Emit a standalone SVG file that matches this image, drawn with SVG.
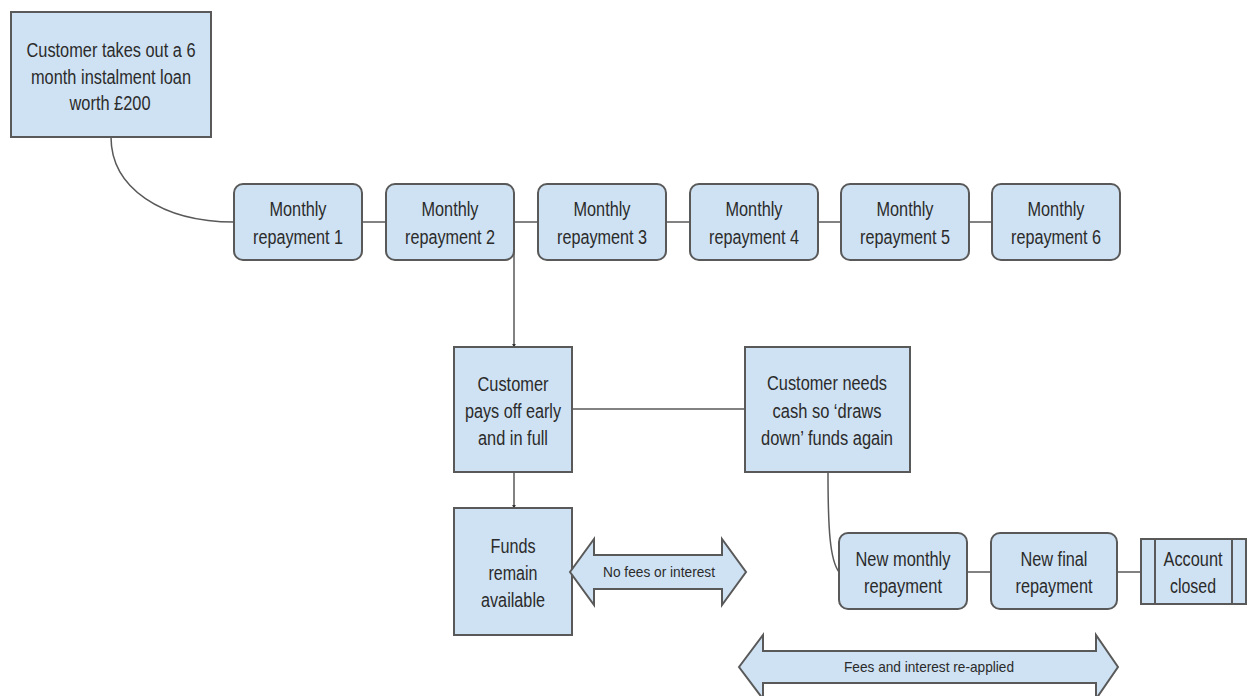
<svg xmlns="http://www.w3.org/2000/svg" width="1248" height="696" viewBox="0 0 1248 696">
<style>
.box{fill:#cfe2f3;stroke:#595959;stroke-width:2}
.t{font-family:"Liberation Sans",Arial,sans-serif;font-size:20px;fill:#2b2b2b;text-anchor:middle}
.s{font-size:14.5px}
.c{fill:none;stroke:#595959;stroke-width:1.5}
</style>
<defs>
<marker id="ah" viewBox="0 0 6 6" refX="5" refY="3" markerWidth="4" markerHeight="4" orient="auto" markerUnits="userSpaceOnUse">
<path d="M0,0 L6,3 L0,6 z" fill="#333"/>
</marker>
</defs>
<rect width="1248" height="696" fill="#fff"/>
<g id="connectors">
<path class="c" d="M111,137 C111,188 162,222 234,222"/>
<line class="c" x1="362" y1="222" x2="386" y2="222"/>
<line class="c" x1="514" y1="222" x2="538" y2="222"/>
<line class="c" x1="666" y1="222" x2="690" y2="222"/>
<line class="c" x1="818" y1="222" x2="841" y2="222"/>
<line class="c" x1="969" y1="222" x2="992" y2="222"/>
<line class="c" x1="514" y1="222" x2="514" y2="347" marker-end="url(#ah)"/>
<line class="c" x1="514" y1="472" x2="514" y2="508" marker-end="url(#ah)"/>
<line class="c" x1="572" y1="409" x2="745" y2="409"/>
<path class="c" d="M828,472 C828,530 830,560 839,572"/>
<line class="c" x1="967" y1="572" x2="991" y2="572"/>
<line class="c" x1="1117" y1="572" x2="1141" y2="572"/>
</g>
<g id="n-start">
<rect class="box" x="11" y="12" width="200" height="125"/>
<text class="t" x="111" y="57" textLength="169" lengthAdjust="spacingAndGlyphs">Customer takes out a 6</text>
<text class="t" x="111" y="84" textLength="160" lengthAdjust="spacingAndGlyphs">month instalment loan</text>
<text class="t" x="110" y="110" textLength="81" lengthAdjust="spacingAndGlyphs">worth £200</text>
</g>
<g id="n-m1">
<rect class="box" x="234" y="184" width="128" height="76" rx="9"/>
<text class="t" x="298" y="216" textLength="57" lengthAdjust="spacingAndGlyphs">Monthly</text>
<text class="t" x="298" y="244" textLength="90" lengthAdjust="spacingAndGlyphs">repayment 1</text>
</g>
<g id="n-m2">
<rect class="box" x="386" y="184" width="128" height="76" rx="9"/>
<text class="t" x="450" y="216" textLength="57" lengthAdjust="spacingAndGlyphs">Monthly</text>
<text class="t" x="450" y="244" textLength="90" lengthAdjust="spacingAndGlyphs">repayment 2</text>
</g>
<g id="n-m3">
<rect class="box" x="538" y="184" width="128" height="76" rx="9"/>
<text class="t" x="602" y="216" textLength="57" lengthAdjust="spacingAndGlyphs">Monthly</text>
<text class="t" x="602" y="244" textLength="90" lengthAdjust="spacingAndGlyphs">repayment 3</text>
</g>
<g id="n-m4">
<rect class="box" x="690" y="184" width="128" height="76" rx="9"/>
<text class="t" x="754" y="216" textLength="57" lengthAdjust="spacingAndGlyphs">Monthly</text>
<text class="t" x="754" y="244" textLength="90" lengthAdjust="spacingAndGlyphs">repayment 4</text>
</g>
<g id="n-m5">
<rect class="box" x="841" y="184" width="128" height="76" rx="9"/>
<text class="t" x="905" y="216" textLength="57" lengthAdjust="spacingAndGlyphs">Monthly</text>
<text class="t" x="905" y="244" textLength="90" lengthAdjust="spacingAndGlyphs">repayment 5</text>
</g>
<g id="n-m6">
<rect class="box" x="992" y="184" width="128" height="76" rx="9"/>
<text class="t" x="1056" y="216" textLength="57" lengthAdjust="spacingAndGlyphs">Monthly</text>
<text class="t" x="1056" y="244" textLength="90" lengthAdjust="spacingAndGlyphs">repayment 6</text>
</g>
<g id="n-payoff">
<rect class="box" x="454" y="347" width="118" height="125"/>
<text class="t" x="513" y="391" textLength="71" lengthAdjust="spacingAndGlyphs">Customer</text>
<text class="t" x="513" y="418" textLength="96" lengthAdjust="spacingAndGlyphs">pays off early</text>
<text class="t" x="513" y="445" textLength="70" lengthAdjust="spacingAndGlyphs">and in full</text>
</g>
<g id="n-funds">
<rect class="box" x="454" y="508" width="118" height="127"/>
<text class="t" x="513" y="553" textLength="45" lengthAdjust="spacingAndGlyphs">Funds</text>
<text class="t" x="513" y="580" textLength="49" lengthAdjust="spacingAndGlyphs">remain</text>
<text class="t" x="513" y="607" textLength="64" lengthAdjust="spacingAndGlyphs">available</text>
</g>
<g id="n-nofees">
<polygon class="box" points="570,572 594,539 594,555 722,555 722,539 746,572 722,605 722,589 594,589 594,605"/>
<text class="t s" x="659" y="577" textLength="112" lengthAdjust="spacingAndGlyphs">No fees or interest</text>
</g>
<g id="n-drawdown">
<rect class="box" x="745" y="347" width="165" height="125"/>
<text class="t" x="827" y="390" textLength="120" lengthAdjust="spacingAndGlyphs">Customer needs</text>
<text class="t" x="827" y="418" textLength="109" lengthAdjust="spacingAndGlyphs">cash so ‘draws</text>
<text class="t" x="827" y="445" textLength="132" lengthAdjust="spacingAndGlyphs">down’ funds again</text>
</g>
<g id="n-newmonthly">
<rect class="box" x="839" y="533" width="128" height="76" rx="9"/>
<text class="t" x="903" y="566" textLength="95" lengthAdjust="spacingAndGlyphs">New monthly</text>
<text class="t" x="903" y="593" textLength="78" lengthAdjust="spacingAndGlyphs">repayment</text>
</g>
<g id="n-newfinal">
<rect class="box" x="991" y="533" width="126" height="76" rx="9"/>
<text class="t" x="1054" y="566" textLength="67" lengthAdjust="spacingAndGlyphs">New final</text>
<text class="t" x="1054" y="593" textLength="77" lengthAdjust="spacingAndGlyphs">repayment</text>
</g>
<g id="n-closed">
<rect class="box" x="1141" y="539" width="105" height="65"/>
<line class="box" x1="1155" y1="539" x2="1155" y2="604"/>
<line class="box" x1="1232" y1="539" x2="1232" y2="604"/>
<text class="t" x="1193" y="566" textLength="59" lengthAdjust="spacingAndGlyphs">Account</text>
<text class="t" x="1193" y="593" textLength="46" lengthAdjust="spacingAndGlyphs">closed</text>
</g>
<g id="n-fees">
<polygon class="box" points="739,667 763,635 763,651 1096,651 1096,635 1118,667 1096,699 1096,683 763,683 763,699"/>
<text class="t s" x="929" y="672" textLength="170" lengthAdjust="spacingAndGlyphs">Fees and interest re-applied</text>
</g>
</svg>
